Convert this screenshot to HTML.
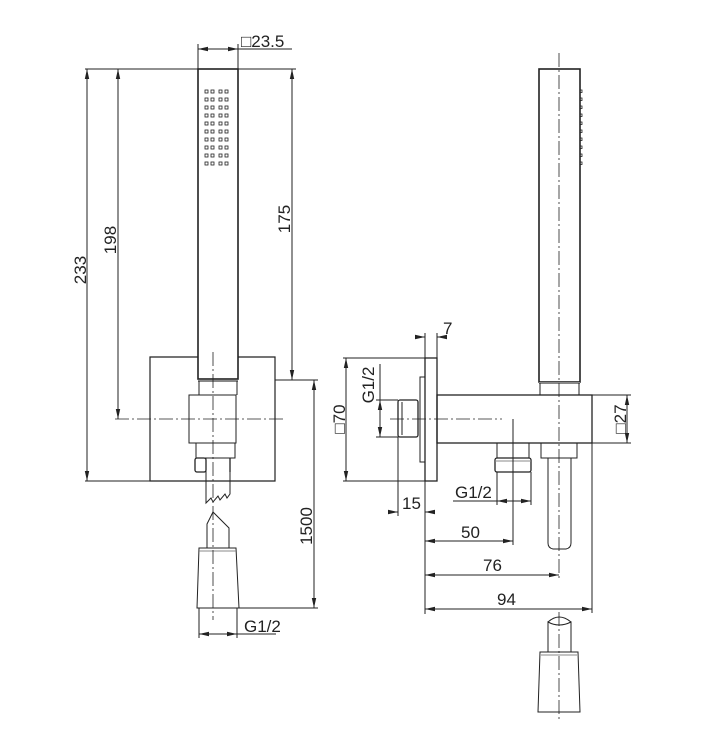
<!DOCTYPE html>
<html><head><meta charset="utf-8"><style>
html,body{margin:0;padding:0;background:#fff;}
svg{display:block;}
text{font-family:"Liberation Sans",sans-serif;font-size:17px;fill:#222;}
</style></head><body>
<svg width="701" height="750" viewBox="0 0 701 750" xmlns="http://www.w3.org/2000/svg">
<defs>
<marker id="a" viewBox="0 0 10 6" refX="10" refY="3" markerWidth="10" markerHeight="6" orient="auto-start-reverse" markerUnits="userSpaceOnUse"><path d="M0,0.8 L10,3 L0,5.2 z" fill="#222"/></marker>
</defs>
<g fill="none" stroke="#222" stroke-width="1">
<line x1="85" y1="69" x2="198" y2="69"/>
<line x1="238" y1="69" x2="296" y2="69"/>
<line x1="198" y1="44" x2="198" y2="69"/>
<line x1="238" y1="44" x2="238" y2="69"/>
<line x1="85" y1="481" x2="150" y2="481"/>
<line x1="275" y1="380" x2="318" y2="380"/>
<line x1="239" y1="608" x2="318" y2="608"/>
<line x1="198" y1="49" x2="238" y2="49" marker-start="url(#a)" marker-end="url(#a)"/>
<line x1="238" y1="49" x2="292" y2="49"/>
<line x1="87" y1="69" x2="87" y2="481" marker-start="url(#a)" marker-end="url(#a)"/>
<line x1="118" y1="69" x2="118" y2="419" marker-start="url(#a)" marker-end="url(#a)"/>
<line x1="292" y1="69" x2="292" y2="380" marker-start="url(#a)" marker-end="url(#a)"/>
<line x1="314" y1="380" x2="314" y2="608" marker-start="url(#a)" marker-end="url(#a)"/>
<line x1="199" y1="608" x2="199" y2="638"/>
<line x1="237" y1="608" x2="237" y2="638"/>
<line x1="199" y1="634" x2="237" y2="634" marker-start="url(#a)" marker-end="url(#a)"/>
<line x1="237" y1="634" x2="276" y2="634"/>
<polyline points="198,357 150,357 150,481 275,481 275,357 238,357" stroke-width="1.2"/>
<rect x="198" y="69" width="40" height="310" stroke-width="1.6"/>
<line x1="198" y1="381" x2="238" y2="381" stroke="#888" stroke-width="2"/>
<line x1="199" y1="381" x2="199" y2="395"/>
<line x1="237" y1="381" x2="237" y2="395"/>
<rect x="189" y="395" width="47" height="48"/>
<rect x="196" y="443" width="39" height="15"/>
<rect x="195" y="458" width="11" height="14" rx="2" stroke-width="1.3"/>
<line x1="230" y1="458" x2="230" y2="472" stroke-width="1.3"/>
<polyline points="206,458 206,503 211,498 213,502 218,496 220,500 225,494 227,498 230,494 230,458"/>
<polyline points="207,548 207,524 213,512 229,528 229,548"/>
<polygon points="199,548 236,548 239,608 197,608"/>
<line x1="199" y1="551" x2="236" y2="551" stroke="#888"/>
<line x1="213" y1="352" x2="213" y2="620" stroke-dasharray="14,3,2,3" stroke-width="0.8"/>
<line x1="115" y1="419" x2="284" y2="419" stroke-dasharray="14,3,2,3" stroke-width="0.8"/>
<g stroke-width="0.8">
<rect x="205" y="90" width="3" height="3"/><rect x="211" y="90" width="3" height="3"/><rect x="219" y="90" width="3" height="3"/><rect x="225" y="90" width="3" height="3"/>
<rect x="205" y="98" width="3" height="3"/><rect x="211" y="98" width="3" height="3"/><rect x="219" y="98" width="3" height="3"/><rect x="225" y="98" width="3" height="3"/>
<rect x="205" y="106" width="3" height="3"/><rect x="211" y="106" width="3" height="3"/><rect x="219" y="106" width="3" height="3"/><rect x="225" y="106" width="3" height="3"/>
<rect x="205" y="114" width="3" height="3"/><rect x="211" y="114" width="3" height="3"/><rect x="219" y="114" width="3" height="3"/><rect x="225" y="114" width="3" height="3"/>
<rect x="205" y="122" width="3" height="3"/><rect x="211" y="122" width="3" height="3"/><rect x="219" y="122" width="3" height="3"/><rect x="225" y="122" width="3" height="3"/>
<rect x="205" y="130" width="3" height="3"/><rect x="211" y="130" width="3" height="3"/><rect x="219" y="130" width="3" height="3"/><rect x="225" y="130" width="3" height="3"/>
<rect x="205" y="138" width="3" height="3"/><rect x="211" y="138" width="3" height="3"/><rect x="219" y="138" width="3" height="3"/><rect x="225" y="138" width="3" height="3"/>
<rect x="205" y="146" width="3" height="3"/><rect x="211" y="146" width="3" height="3"/><rect x="219" y="146" width="3" height="3"/><rect x="225" y="146" width="3" height="3"/>
<rect x="205" y="154" width="3" height="3"/><rect x="211" y="154" width="3" height="3"/><rect x="219" y="154" width="3" height="3"/><rect x="225" y="154" width="3" height="3"/>
<rect x="205" y="162" width="3" height="3"/><rect x="211" y="162" width="3" height="3"/><rect x="219" y="162" width="3" height="3"/><rect x="225" y="162" width="3" height="3"/>
</g>
<rect x="539" y="69" width="41" height="313" stroke-width="1.6"/>
<line x1="539" y1="383" x2="580" y2="383" stroke="#888" stroke-width="2"/>
<line x1="540" y1="383" x2="540" y2="395"/>
<line x1="579" y1="383" x2="579" y2="395"/>
<g stroke-width="0.8">
<rect x="580" y="90" width="2" height="2.5"/><rect x="580" y="98" width="2" height="2.5"/><rect x="580" y="106" width="2" height="2.5"/><rect x="580" y="114" width="2" height="2.5"/><rect x="580" y="122" width="2" height="2.5"/><rect x="580" y="130" width="2" height="2.5"/><rect x="580" y="138" width="2" height="2.5"/><rect x="580" y="146" width="2" height="2.5"/><rect x="580" y="154" width="2" height="2.5"/><rect x="580" y="162" width="2" height="2.5"/>
</g>
<rect x="437" y="395" width="155" height="48" stroke-width="1.3"/>
<rect x="425" y="358" width="12" height="123" stroke-width="1.3"/>
<rect x="420" y="377" width="5" height="85"/>
<rect x="398" y="400" width="20" height="37" rx="2" stroke-width="1.3"/>
<line x1="402" y1="402" x2="402" y2="435"/>
<rect x="497" y="443" width="32" height="15"/>
<rect x="495" y="458" width="36" height="14" rx="2" stroke-width="1.3"/>
<line x1="495" y1="461" x2="531" y2="461" stroke="#888"/>
<rect x="541" y="443" width="36" height="15"/>
<path d="M548,458 L548,543 Q548,548 553,549 L566,549 Q571,548 571,543 L571,458"/>
<path d="M548,652 L548,622 Q559,628 571,622 L571,652"/>
<path d="M548,622 Q559,612 571,622" />
<polygon points="540,652 578,652 580,712 538,712"/>
<line x1="541" y1="655" x2="577" y2="655" stroke="#888"/>
<line x1="559" y1="53" x2="559" y2="578" stroke-dasharray="14,3,2,3" stroke-width="0.8"/>
<line x1="559" y1="612" x2="559" y2="722" stroke-dasharray="14,3,2,3" stroke-width="0.8"/>
<line x1="390" y1="419" x2="502" y2="419" stroke-dasharray="14,3,2,3" stroke-width="0.8"/>
<line x1="425" y1="333" x2="425" y2="358"/>
<line x1="437" y1="333" x2="437" y2="395"/>
<line x1="416" y1="337" x2="425" y2="337" marker-end="url(#a)"/>
<line x1="446" y1="337" x2="437" y2="337" marker-end="url(#a)"/>
<line x1="343" y1="358" x2="425" y2="358"/>
<line x1="343" y1="481" x2="425" y2="481"/>
<line x1="346" y1="358" x2="346" y2="481" marker-start="url(#a)" marker-end="url(#a)"/>
<line x1="376" y1="400" x2="398" y2="400"/>
<line x1="376" y1="437" x2="398" y2="437"/>
<line x1="380" y1="364" x2="380" y2="400"/>
<line x1="380" y1="400" x2="380" y2="437" marker-start="url(#a)" marker-end="url(#a)"/>
<line x1="592" y1="395" x2="631" y2="395"/>
<line x1="592" y1="443" x2="631" y2="443"/>
<line x1="627" y1="395" x2="627" y2="443" marker-start="url(#a)" marker-end="url(#a)"/>
<line x1="398" y1="437" x2="398" y2="516"/>
<line x1="425" y1="481" x2="425" y2="614"/>
<line x1="389" y1="512" x2="398" y2="512" marker-end="url(#a)"/>
<line x1="434" y1="512" x2="425" y2="512" marker-end="url(#a)"/>
<line x1="497" y1="472" x2="497" y2="505"/>
<line x1="531" y1="472" x2="531" y2="505"/>
<line x1="497" y1="501" x2="531" y2="501" marker-start="url(#a)" marker-end="url(#a)"/>
<line x1="453" y1="501" x2="497" y2="501"/>
<line x1="513" y1="419" x2="513" y2="545"/>
<line x1="425" y1="541" x2="513" y2="541" marker-start="url(#a)" marker-end="url(#a)"/>
<line x1="425" y1="575" x2="559" y2="575" marker-start="url(#a)" marker-end="url(#a)"/>
<line x1="592" y1="443" x2="592" y2="613"/>
<line x1="425" y1="609" x2="592" y2="609" marker-start="url(#a)" marker-end="url(#a)"/>
</g>
<text x="241" y="47">□23.5</text>
<text transform="translate(86,270) rotate(-90)" text-anchor="middle">233</text>
<text transform="translate(116,240) rotate(-90)" text-anchor="middle">198</text>
<text transform="translate(290,219) rotate(-90)" text-anchor="middle">175</text>
<text transform="translate(312,526) rotate(-90)" text-anchor="middle">1500</text>
<text x="244" y="632">G1/2</text>
<text x="443" y="334">7</text>
<text transform="translate(345,419) rotate(-90)" text-anchor="middle">□70</text>
<text transform="translate(374,385) rotate(-90)" text-anchor="middle">G1/2</text>
<text transform="translate(626,419) rotate(-90)" text-anchor="middle">□27</text>
<text x="402" y="509">15</text>
<text x="455" y="498">G1/2</text>
<text x="461" y="538">50</text>
<text x="483" y="571">76</text>
<text x="497" y="605">94</text>
</svg>
</body></html>
